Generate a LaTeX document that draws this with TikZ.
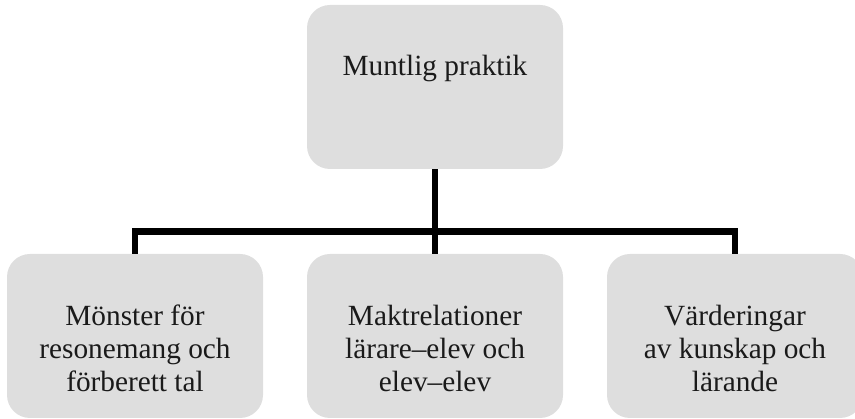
\documentclass[tikz,border=0pt]{standalone}
\usepackage{fontspec}
\setmainfont{Liberation Serif}
\definecolor{boxgray}{HTML}{DEDEDE}
\definecolor{txt}{HTML}{1A1A1A}
\begin{document}
\begin{tikzpicture}[x=1pt,y=-1pt,
  box/.style={draw=none,fill=boxgray,rounded corners=23pt,inner sep=0pt,
    minimum width=256pt,minimum height=164pt},
  lbl/.style={text=txt,align=center,inner sep=0pt,anchor=base,
    font=\fontsize{29.3}{33}\selectfont},
  conn/.style={line width=6.5pt,black,line join=miter}]
\clip (0,0) rectangle (855,419);
\useasboundingbox (0,0) rectangle (855,419);
\node[box] (top) at (435,87) {};
\node[box] (left) at (135,336) {};
\node[box] (mid) at (435,336) {};
\node[box] (right) at (735,336) {};
\coordinate (bus) at (435,231.7);
\draw[conn] (top.south) -- (mid.north);
\draw[conn] (left.north) -- (left.north |- bus) -- (right.north |- bus) -- (right.north);
\node[lbl] (ttop) at (435,76) {Muntlig praktik};
\node[lbl] (tleft) at (135,391.7) {Mönster för\\resonemang och\\förberett tal};
\node[lbl] (tmid) at (435,391.7) {Maktrelationer\\lärare–elev och\\elev–elev};
\node[lbl] (tright) at (735,391.7) {Värderingar\\av kunskap och\\lärande};
\end{tikzpicture}
\end{document}
